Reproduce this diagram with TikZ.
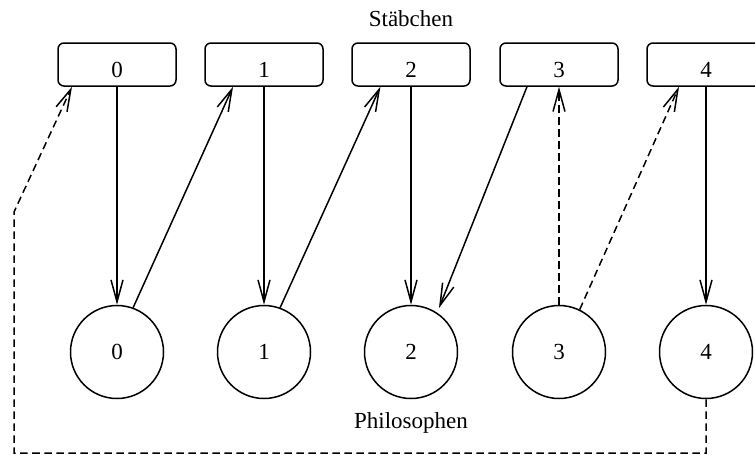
\documentclass[tikz,border=0pt]{standalone}
\usepackage{fontspec}
\setmainfont{Liberation Serif}
\usetikzlibrary{arrows.meta}
\begin{document}
\begin{tikzpicture}[x=1pt,y=-1pt,
  font=\fontsize{23}{27}\selectfont,
  line width=1.5pt,
  stick/.style={draw, rounded corners=6pt, minimum width=118pt, minimum height=43pt,
    inner sep=0pt, text height=25pt, text depth=0pt},
  phil/.style={draw, circle, minimum size=93pt, inner sep=0pt},
  arr/.style={-{Straight Barb[length=22pt,width=12pt]}},
  dsh/.style={dash pattern=on 7.5pt off 4.5pt}]
\useasboundingbox (0,0) rectangle (755,455);

% chopsticks (top row) and philosophers (bottom row)
\foreach \i/\x in {0/117,1/264,2/411,3/559,4/706} {
  \node[stick] (b\i) at (\x,64.5) {\i};
  \node[phil]  (c\i) at (\x,352) {\i};
}

\node[anchor=base] (stab) at (411,27) {Stäbchen};
\node[anchor=base] (phils) at (411,428) {Philosophen};

% held chopsticks
\draw[arr] (b0.south) -- (c0.north);
\draw[arr] (b1.south) -- (c1.north);
\draw[arr] (b2.south) -- (c2.north);
\draw[arr] (b4.south) -- (c4.north);
\draw[arr] ([xshift=-32pt]b3.south) -- ([shift={(28pt,44pt)}]c2.center);

% requested chopsticks
\draw[arr] (c0.70) -- ([xshift=-31pt]b1.south);
\draw[arr] (c1.70) -- ([xshift=-30.6pt]b2.south);
\draw[arr,dsh] (c3.north) -- (b3.south);
\draw[arr,dsh] (c3.64) -- ([xshift=-27pt]b4.south);

% wrap-around request of philosopher 4 for chopstick 0
\coordinate (w1) at (706,453);
\coordinate (w2) at (14,453);
\coordinate (w3) at (14,212);
\draw[arr,dsh] (c4.south) -- (w1) -- (w2) -- (w3) -- ([xshift=-45pt]b0.south);
\end{tikzpicture}
\end{document}
